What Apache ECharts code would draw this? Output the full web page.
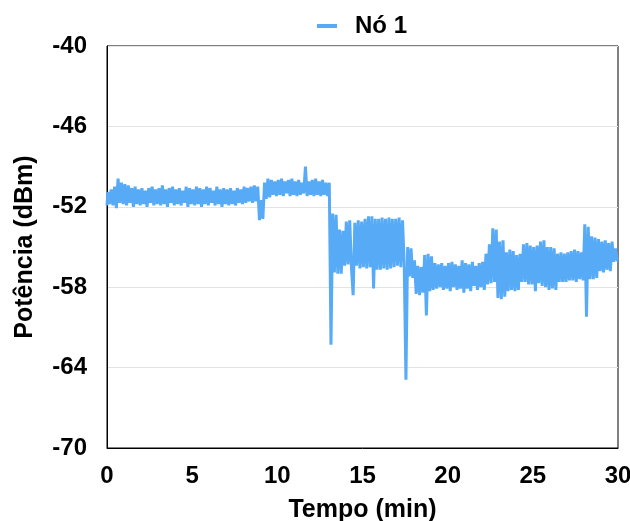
<!DOCTYPE html>
<html>
<head>
<meta charset="utf-8">
<script src="https://cdn.jsdelivr.net/npm/echarts@6/dist/echarts.min.js"></script>
<style>html,body{margin:0;padding:0;background:#fff}#c{width:630px;height:521px}</style>
</head>
<body>
<div id="c"></div>
<script>
// Time in minutes (0.1 min steps) and received power in dBm
const seriesName = 'Nó 1';
const xTicks = [0, 5, 10, 15, 20, 25, 30];
const yTicks = [-70, -64, -58, -52, -46, -40];
const power = [
  // 0.0 - 0.9
  -51.9, -50.9, -51.8, -50.7, -51.9, -50.5, -52.1, -49.9, -51.7, -50.2,
  // 1
  -51.8, -50.3, -51.9, -50.4, -51.7, -50.6, -52.0, -50.5, -51.8, -50.7,
  // 2
  -51.9, -50.6, -51.8, -50.8, -52.0, -50.6, -51.7, -50.5, -51.9, -50.7,
  // 3
  -51.8, -50.6, -51.9, -50.4, -51.8, -50.7, -52.0, -50.6, -51.7, -50.5,
  // 4
  -51.9, -50.7, -51.8, -50.6, -51.9, -50.8, -51.7, -50.5, -52.0, -50.6,
  // 5
  -51.8, -50.7, -51.9, -50.5, -51.8, -50.6, -52.0, -50.7, -51.8, -50.5,
  // 6
  -51.9, -50.6, -51.7, -50.8, -51.9, -50.5, -51.8, -50.7, -52.0, -50.6,
  // 7
  -51.8, -50.7, -51.9, -50.6, -51.8, -50.8, -51.9, -50.6, -51.7, -50.7,
  // 8
  -51.8, -50.5, -51.7, -50.6, -51.6, -50.5, -51.7, -50.4, -51.6, -50.5,
  // 9
  -53.0, -51.5, -52.9, -50.2, -51.4, -49.9, -51.3, -50.0, -51.1, -50.1,
  // 10
  -51.2, -50.0, -51.1, -49.9, -51.2, -50.1, -51.0, -50.0, -51.2, -49.9,
  // 11
  -51.1, -50.1, -51.2, -50.0, -51.1, -50.2, -51.0, -49.0, -51.2, -50.1,
  // 12
  -51.1, -50.0, -51.2, -49.9, -51.1, -50.1, -51.2, -50.0, -51.1, -50.2,
  // 13
  -51.2, -50.2, -62.3, -52.5, -56.9, -52.6, -57.0, -53.7, -57.0, -53.8,
  // 14
  -56.4, -53.1, -56.3, -53.0, -56.5, -58.6, -53.2, -56.4, -53.0, -56.6,
  // 15
  -53.1, -56.5, -52.9, -56.6, -52.7, -56.5, -52.7, -58.1, -52.9, -56.7,
  // 16
  -52.9, -56.7, -52.8, -56.6, -52.9, -56.7, -52.8, -56.6, -52.9, -56.5,
  // 17
  -52.9, -56.4, -52.8, -56.5, -53.0, -56.3, -64.9, -55.0, -57.2, -55.1,
  // 18
  -57.3, -56.0, -58.5, -56.4, -58.6, -56.5, -58.4, -55.6, -60.1, -55.5,
  // 19
  -58.3, -55.7, -58.2, -56.2, -58.1, -56.3, -58.0, -56.2, -58.2, -56.4,
  // 20
  -58.1, -56.2, -58.3, -56.1, -58.0, -56.3, -58.2, -56.4, -58.1, -56.0,
  // 21
  -58.4, -56.2, -58.1, -56.3, -58.3, -56.1, -57.9, -56.4, -58.2, -56.2,
  // 22
  -58.0, -56.1, -58.2, -55.5, -57.8, -54.8, -57.7, -53.6, -57.6, -53.7,
  // 23
  -58.8, -54.6, -58.9, -54.5, -58.7, -55.4, -58.3, -55.2, -58.2, -55.3,
  // 24
  -58.3, -55.6, -58.2, -55.5, -57.6, -54.8, -57.6, -54.7, -57.8, -54.9,
  // 25
  -57.8, -55.0, -58.3, -54.9, -57.7, -54.6, -57.9, -54.5, -58.0, -55.0,
  // 26
  -58.2, -55.0, -58.1, -55.1, -58.2, -55.5, -57.6, -55.4, -57.6, -55.5,
  // 27
  -57.6, -55.4, -57.5, -55.3, -57.5, -55.2, -57.6, -55.3, -57.4, -55.4,
  // 28
  -57.5, -53.3, -60.2, -53.5, -57.4, -54.2, -57.4, -54.3, -57.3, -54.4,
  // 29
  -56.8, -54.6, -56.9, -54.5, -56.7, -54.7, -56.8, -54.6, -56.1, -55.1,
  // 30
  -56.0
];
const timeStep = 0.1; // sampling step of the readings, minutes
const times = power.map((_, i) => +(i * timeStep).toFixed(1));

const data = times.map((t, i) => [t, power[i]]);
const FONT = 'Liberation Sans, Arial, Helvetica, sans-serif';
const chart = echarts.init(document.getElementById('c'), null, {renderer: 'canvas'});
chart.setOption({
  animation: false,
  backgroundColor: '#ffffff',
  legend: {
    top: 9,
    left: 312,
    icon: 'rect',
    itemWidth: 20,
    itemHeight: 4,
    itemGap: 10,
    textStyle: {fontFamily: FONT, fontWeight: 'bold', fontSize: 24, color: '#000', padding: [0, 0, 0, 13]},
    data: [seriesName]
  },
  grid: {
    left: 107, right: 12, top: 46, bottom: 73,
    outerBoundsMode: 'none', containLabel: false,
    show: true, borderColor: '#000', borderWidth: 1, backgroundColor: 'transparent'
  },
  xAxis: {
    type: 'value',
    min: xTicks[0], max: xTicks[xTicks.length - 1], interval: 5,
    name: 'Tempo (min)', nameLocation: 'middle', nameGap: 50,
    nameTextStyle: {fontFamily: FONT, fontWeight: 'bold', fontSize: 25, color: '#000'},
    axisLine: {show: true, lineStyle: {color: '#000', width: 1}},
    axisTick: {show: false},
    splitLine: {show: false},
    axisLabel: {margin: 16, fontFamily: FONT, fontWeight: 'bold', fontSize: 24, color: '#000'}
  },
  yAxis: {
    type: 'value',
    min: yTicks[0], max: yTicks[yTicks.length - 1], interval: 6,
    name: 'Potência (dBm)', nameLocation: 'middle', nameGap: 69, nameRotate: 90,
    nameTextStyle: {fontFamily: FONT, fontWeight: 'bold', fontSize: 25, color: '#000'},
    axisLine: {show: true, lineStyle: {color: '#000', width: 1}},
    axisTick: {show: false},
    splitLine: {show: true, lineStyle: {color: '#e3e3e3', width: 1}},
    axisLabel: {margin: 20, fontFamily: FONT, fontWeight: 'bold', fontSize: 24, color: '#000'}
  },
  series: [{
    name: seriesName,
    type: 'line',
    data: data,
    step: 'middle',
    symbol: 'none',
    lineStyle: {color: '#57abf6', width: 3},
    itemStyle: {color: '#57abf6'}
  }]
});
</script>
</body>
</html>
